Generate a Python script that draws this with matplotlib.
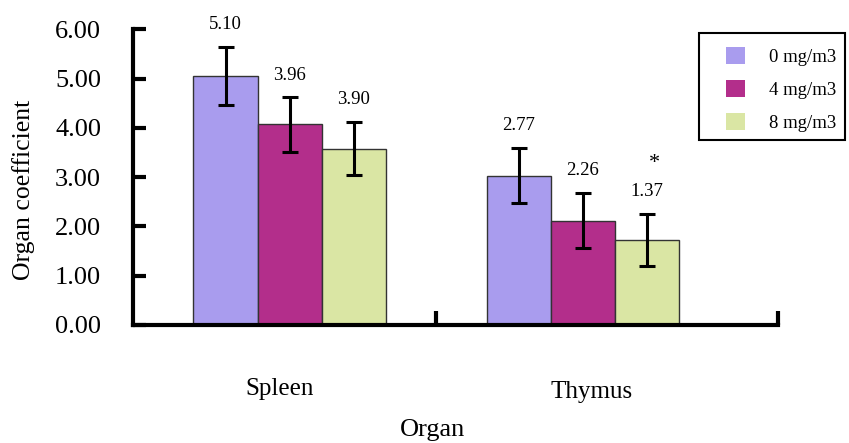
import matplotlib.pyplot as plt
import matplotlib.transforms as mtransforms
import numpy as np
from matplotlib.patches import Patch, Rectangle

plt.rcParams['font.family'] = ['Liberation Serif', 'DejaVu Serif']

# data
organs = ['Spleen', 'Thymus']
doses = ['0 mg/m3', '4 mg/m3', '8 mg/m3']
heights = [[5.05, 3.03], [4.07, 2.12], [3.58, 1.73]]  # bar heights per dose
errors = [[0.59, 0.56], [0.55, 0.56], [0.54, 0.53]]
value_labels = [['5.10', '2.77'], ['3.96', '2.26'], ['3.90', '1.37']]
marks = [['', ''], ['', ''], ['', '*']]
colors = ['#a99cee', '#b32e8b', '#dae6a4']

fig = plt.figure(figsize=(8.49, 4.43), dpi=100)
ax = fig.add_axes([0.1567, 0.2664, 0.7597, 0.6675])

x = np.arange(len(organs))
w = 0.2187
for i in range(len(doses)):
    xs = x + (i - 1) * w
    ax.bar(xs, heights[i], w, color=colors[i], edgecolor='#333333', linewidth=1, zorder=2)
    ax.errorbar(xs, heights[i], yerr=errors[i], fmt='none', ecolor='black',
                elinewidth=2.2, capsize=5.5, capthick=2.2, zorder=3)
    for j in range(len(organs)):
        top = heights[i][j] + errors[i][j]
        ax.annotate(value_labels[i][j], (xs[j], top), xytext=(0, 16),
                    textcoords='offset points', ha='center', va='center', fontsize=13.5)
        if marks[i][j]:
            ax.annotate(marks[i][j], (xs[j], top), xytext=(5, 36),
                        textcoords='offset points', ha='center', va='center', fontsize=16)

ax.set_xlim(-0.534, 1.665)
ax.set_ylim(0, 6)
ax.set_yticks(np.arange(0, 7, 1))
ax.set_yticklabels(['%.2f' % v for v in np.arange(0, 7, 1)], fontsize=19)
ax.tick_params(axis='y', direction='in', length=9, width=3, pad=23)

ax.set_xticks(x)
ax.set_xticklabels(organs, fontsize=18)
ax.tick_params(axis='x', which='major', length=0, pad=38)
ax.set_xticks([0.5, 1.665], minor=True)
ax.tick_params(axis='x', which='minor', direction='in', length=10, width=3)

# nudge category labels a little, as in the original
for lbl, (dx, dy) in zip(ax.get_xticklabels(), [(-7, 0), (6, -2)]):
    lbl.set_transform(lbl.get_transform() +
                      mtransforms.ScaledTranslation(dx / 72, dy / 72, fig.dpi_scale_trans))

for s in ['top', 'right']:
    ax.spines[s].set_visible(False)
for s in ['left', 'bottom']:
    ax.spines[s].set_linewidth(3)
    ax.spines[s].set_zorder(4)

ax.set_ylabel('Organ coefficient', fontsize=18.5)
ax.yaxis.set_label_coords(-0.152, 0.456)
fig.text(433 / 849, 1 - 430 / 443, 'Organ', ha='center', va='center', fontsize=19)

# legend: entries without frame, box drawn separately for padding control
handles = [Patch(facecolor=c, edgecolor='none') for c in colors]
leg = fig.legend(handles, doses, loc='upper left', bbox_to_anchor=(726 / 849, 1 - 47 / 443),
                 fontsize=13.5, frameon=False, handlelength=1.0, handleheight=1.0,
                 borderpad=0, labelspacing=0.75, handletextpad=1.3, borderaxespad=0)
fig.patches.append(Rectangle((699 / 849, 1 - 140 / 443), 146 / 849, 107 / 443,
                             transform=fig.transFigure, fill=False, edgecolor='black',
                             linewidth=1.5))

fig.savefig('out.png', dpi=100)
